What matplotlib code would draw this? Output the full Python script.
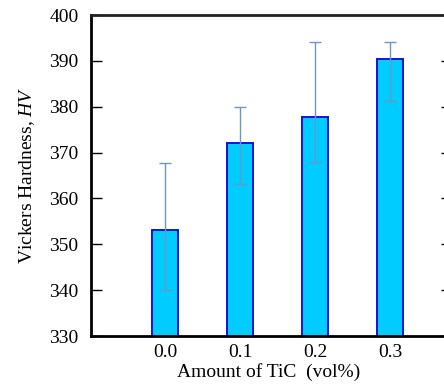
import matplotlib
matplotlib.use("Agg")
import matplotlib.pyplot as plt
import numpy as np

plt.rcParams['font.family'] = ['Liberation Serif', 'DejaVu Serif']
plt.rcParams['mathtext.fontset'] = 'custom'
plt.rcParams['mathtext.it'] = 'Liberation Serif:italic'
plt.rcParams['mathtext.rm'] = 'Liberation Serif'

# hardness vs TiC amount
tic_labels = ['0.0', '0.1', '0.2', '0.3']
hardness = [353.1, 372.2, 377.8, 390.4]
err_upper = [367.8, 380.0, 394.1, 394.1]
err_lower = [340.0, 363.2, 368.0, 381.2]

x = np.arange(len(tic_labels))
yerr = [np.array(hardness) - np.array(err_lower), np.array(err_upper) - np.array(hardness)]

fig = plt.figure(figsize=(4.44, 3.85), dpi=100)
ax = fig.add_axes([0.205, 0.127, 0.802, 0.834])

ax.bar(x, hardness, width=0.35, bottom=0, color='#00ccff', edgecolor='#1010e0', linewidth=1.4, zorder=2)
ax.errorbar(x, hardness, yerr=yerr, fmt='none', ecolor='#6e96c0', elinewidth=1.0,
            capsize=4.5, capthick=1.0, zorder=3)

ax.set_ylim(330, 400)
ax.set_xlim(-0.987, 3.76)
ax.set_yticks(np.arange(330, 401, 10))
ax.set_xticks(x)
ax.set_xticklabels(tic_labels)

for s in ['left', 'bottom', 'top']:
    ax.spines[s].set_linewidth(2.0)
    ax.spines[s].set_color('black')
ax.spines['top'].set_color('#222222')
ax.spines['right'].set_visible(False)

ax.tick_params(axis='y', direction='in', length=8, width=1.0, labelsize=14, pad=9,
               right=True, colors='black')
ax.tick_params(axis='x', length=0, labelsize=14, pad=6)

# faint right ticks of cut-off right spine
for t in ax.yaxis.get_major_ticks():
    t.tick2line.set_color('#cccccc')
    t.tick2line.set_markersize(4)

ax.set_xlabel('Amount of TiC  (vol%)', fontsize=14, labelpad=1)
ax.set_ylabel('Vickers Hardness, $\\it{HV}$', fontsize=14, labelpad=9)

fig.savefig('out.png', dpi=100)
